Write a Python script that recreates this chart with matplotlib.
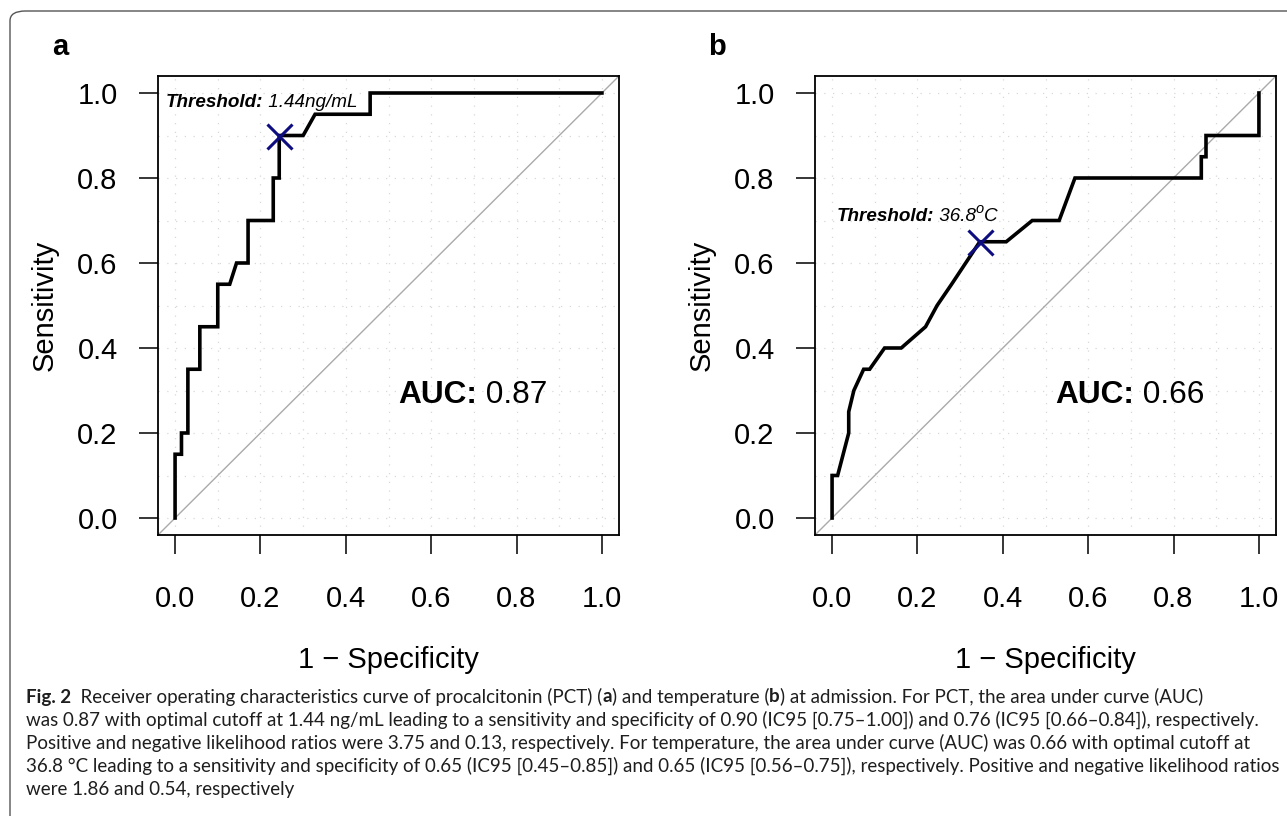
import numpy as np
import matplotlib
matplotlib.use("Agg")
import matplotlib.pyplot as plt
from matplotlib.patches import FancyBboxPatch
from matplotlib.text import Annotation

plt.rcParams['font.family'] = ['Liberation Sans', 'DejaVu Sans']

# ROC curve of PCT (panel a)
fpr_a = [0, 0, 0.015, 0.015, 0.03, 0.03, 0.058, 0.058, 0.10, 0.10, 0.128, 0.144,
         0.171, 0.171, 0.23, 0.23, 0.244, 0.244, 0.30, 0.328, 0.457, 0.457, 1.0]
tpr_a = [0, 0.15, 0.15, 0.20, 0.20, 0.35, 0.35, 0.45, 0.45, 0.55, 0.55, 0.60,
         0.60, 0.70, 0.70, 0.80, 0.80, 0.90, 0.90, 0.95, 0.95, 1.0, 1.0]

# ROC curve of temperature (panel b)
fpr_b = [0, 0, 0.013, 0.039, 0.039, 0.051, 0.074, 0.088, 0.123, 0.162, 0.219, 0.246,
         0.28, 0.313, 0.346, 0.408, 0.469, 0.532, 0.569, 0.865, 0.865, 0.876, 0.876, 1.0, 1.0]
tpr_b = [0, 0.10, 0.10, 0.20, 0.25, 0.30, 0.35, 0.35, 0.40, 0.40, 0.45, 0.50,
         0.55, 0.60, 0.65, 0.65, 0.70, 0.70, 0.80, 0.80, 0.85, 0.85, 0.90, 0.90, 1.0]

# optimal thresholds
best_a = (0.244, 0.90)
best_b = (0.346, 0.65)
thr_a = ["1.44ng/mL"]
thr_b = ["36.8", "o", "C"]
auc_a = "0.87"
auc_b = "0.66"
ticks = [0.0, 0.2, 0.4, 0.6, 0.8, 1.0]
tick_labels = ["0.0", "0.2", "0.4", "0.6", "0.8", "1.0"]

caption = [
    [("Fig. 2", "bold"), ("  Receiver operating characteristics curve of procalcitonin (PCT) (", "normal"),
     ("a", "bold"), (") and temperature (", "normal"), ("b", "bold"),
     (") at admission. For PCT, the area under curve (AUC)", "normal")],
    [("was 0.87 with optimal cutoff at 1.44 ng/mL leading to a sensitivity and specificity of 0.90 "
      "(IC95 [0.75\u20131.00]) and 0.76 (IC95 [0.66\u20130.84]), respectively.", "normal")],
    [("Positive and negative likelihood ratios were 3.75 and 0.13, respectively. For temperature, "
      "the area under curve (AUC) was 0.66 with optimal cutoff at", "normal")],
    [("36.8 \u00b0C leading to a sensitivity and specificity of 0.65 (IC95 [0.45\u20130.85]) and 0.65 "
      "(IC95 [0.56\u20130.75]), respectively. Positive and negative likelihood ratios", "normal")],
    [("were 1.86 and 0.54, respectively", "normal")],
]

W, H = 1287, 816
fig = plt.figure(figsize=(W / 100, H / 100), dpi=100)

# rounded frame at top-left of the figure box
frame = FancyBboxPatch((10 / W, -0.05), 1.2, (H - 11) / H + 0.05,
                       boxstyle="round,pad=0,rounding_size=0.012",
                       transform=fig.transFigure, facecolor="none",
                       edgecolor="#555555", linewidth=1.0)
fig.patches.append(frame)


def chain(first, pieces):
    # write text pieces one after another on the same line
    prev = first
    for txt, kw in pieces:
        kw = dict(kw)
        dy = kw.pop("dy", 0)
        ann = Annotation(txt, xy=(1, 0), xycoords=prev, xytext=(0, dy),
                         textcoords="offset points", va="bottom", ha="left", **kw)
        fig.add_artist(ann)
        prev = ann
    return prev


def roc_panel(left, fpr, tpr, best, letter, auc):
    ax = fig.add_axes([left / W, 1 - 535 / H, 461 / W, 459 / H])
    ax.set_xlim(-0.04, 1.04)
    ax.set_ylim(-0.04, 1.04)
    ax.set_xticks(ticks)
    ax.set_xticklabels(tick_labels)
    ax.set_yticks(ticks)
    ax.set_yticklabels(tick_labels)
    ax.set_xticks(np.arange(0, 1.01, 0.1), minor=True)
    ax.set_yticks(np.arange(0, 1.01, 0.1), minor=True)
    ax.tick_params(which="major", length=14, width=1.1, labelsize=21)
    ax.tick_params(axis="x", pad=22)
    ax.tick_params(axis="y", pad=15)
    ax.tick_params(which="minor", length=0)
    ax.grid(True, which="both", color="#d8d8d8", linestyle=(0, (1, 6)), linewidth=0.9)
    for s in ax.spines.values():
        s.set_linewidth(1.3)
    ax.axline((0, 0), (1, 1), color="#aaaaaa", linewidth=1.0)
    ax.plot(fpr, tpr, color="black", linewidth=2.6, solid_joinstyle="miter")
    ax.plot([best[0]], [best[1]], marker="x", color="#0d0d80", markersize=18,
            markeredgewidth=2.2, linestyle="none")
    ax.set_xlabel("1 \u2212 Specificity", fontsize=21)
    ax.xaxis.set_label_coords(0.5, -0.242)
    ax.set_ylabel("Sensitivity", fontsize=21)
    ax.yaxis.set_label_coords(-0.215, 0.5)
    t = ax.text(0.523, 0.29, "AUC:", fontsize=22.8, fontweight="bold", va="center", ha="left")
    chain(t, [(" " + auc, dict(fontsize=22.8))])
    fig.text((left - 98) / W, 1 - 47 / H, letter, fontsize=21, fontweight="bold",
             ha="center", va="center")
    return ax


ax_a = roc_panel(158, fpr_a, tpr_a, best_a, "a", auc_a)
ax_b = roc_panel(815, fpr_b, tpr_b, best_b, "b", auc_b)

t = ax_a.text(-0.022, 0.978, "Threshold:", fontsize=13.6, fontweight="bold", style="italic",
              va="center", ha="left")
chain(t, [(" " + thr_a[0], dict(fontsize=13.6, style="italic"))])

t = ax_b.text(0.010, 0.71, "Threshold:", fontsize=13.6, fontweight="bold", style="italic",
              va="center", ha="left")
chain(t, [(" " + thr_b[0], dict(fontsize=13.6, style="italic")),
          (thr_b[1], dict(fontsize=10.5, style="italic", dy=6)),
          (thr_b[2], dict(fontsize=13.6, style="italic", dy=-6))])

# caption, one text per line, bold parts chained after the plain ones
cap_font = ["Lato", "DejaVu Sans"]
cap_size = 13.5
for i, line in enumerate(caption):
    y = 1 - (697 + 23 * i) / H
    txt, w = line[0]
    first = fig.text(26 / W, y, txt, fontsize=cap_size, fontweight=w, family=cap_font,
                     color="#1e1e1e", va="center", ha="left")
    chain(first, [(s, dict(fontsize=cap_size, fontweight=ww, family=cap_font, color="#1e1e1e"))
                  for s, ww in line[1:]])

fig.savefig("out.png", dpi=100)
